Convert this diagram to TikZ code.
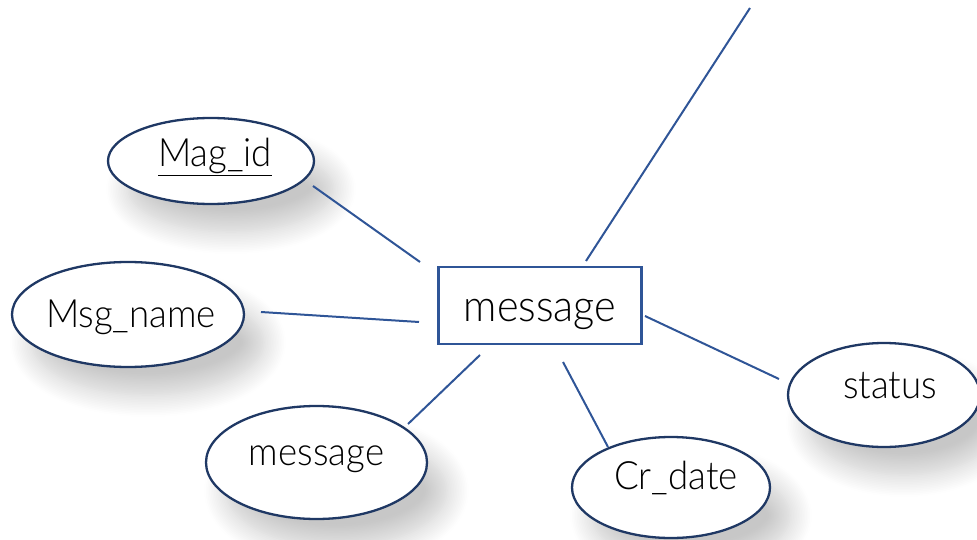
\documentclass[tikz,border=0pt]{standalone}
\usepackage{fontspec}
\setmainfont{Lato Light}[FakeStretch=0.94]
\usetikzlibrary{shapes.geometric,shadows.blur}
\definecolor{edgeblue}{HTML}{1F3864}
\definecolor{lineblue}{HTML}{2F5597}
\definecolor{boxblue}{HTML}{2F5597}
\newcommand{\flatbox}[1]{\raisebox{0pt}[0pt][0pt]{#1}}
\tikzset{
  attr/.style={ellipse, draw=edgeblue, line width=2.3pt, fill=white, inner sep=0pt,
    blur shadow={shadow xshift=20pt, shadow yshift=-28pt, shadow blur radius=22pt, shadow opacity=22, shadow blur steps=14}},
  attrtext/.style={font=\fontsize{39}{44}\selectfont, text=black, inner sep=0pt},
  entitytext/.style={font=\fontsize{44}{50}\selectfont, text=black, inner sep=0pt},
  entity/.style={rectangle, draw=boxblue, line width=2.3pt, fill=white, inner sep=0pt,
    minimum width=203pt, minimum height=77pt},
  link/.style={draw=lineblue, line width=2pt}
}
\begin{document}
\begin{tikzpicture}[x=1pt,y=-1pt]
\useasboundingbox (0,0) rectangle (977,540);
\node[attr, minimum width=206pt, minimum height=86pt,
  label={[attrtext, xshift=4pt, yshift=-6pt]center:\flatbox{\underline{Mag\_id}}}] (magid) at (211,161) {};
\node[attr, minimum width=232pt, minimum height=105pt,
  label={[attrtext, xshift=3pt, yshift=-12.5pt]center:\flatbox{Msg\_name}}] (msgname) at (128,314.5) {};
\node[attr, minimum width=221pt, minimum height=113pt,
  label={[attrtext, yshift=-3pt]center:\flatbox{message}}] (msg) at (316.5,462.5) {};
\node[attr, minimum width=198pt, minimum height=101pt,
  label={[attrtext, xshift=5pt, yshift=-1.5pt]center:\flatbox{Cr\_date}}] (crdate) at (671,487.5) {};
\node[attr, minimum width=192pt, minimum height=104pt,
  label={[attrtext, xshift=6pt, yshift=-3pt]center:\flatbox{status}}] (status) at (884,395) {};
\node[entity, label={[entitytext, yshift=-15.5pt]center:\flatbox{message}}] (ent) at (540,305.5) {};
% connector ends
\coordinate (a1) at (313,186); \coordinate (a2) at (420,262);
\coordinate (b1) at (261,312); \coordinate (b2) at (419,322);
\coordinate (c1) at (408,424); \coordinate (c2) at (480,355);
\coordinate (d1) at (608,447); \coordinate (d2) at (563,362);
\coordinate (e1) at (779,379); \coordinate (e2) at (645,316);
\coordinate (f1) at (586,261); \coordinate (f2) at (750,8);
\draw[link] (a1) -- (a2);
\draw[link] (b1) -- (b2);
\draw[link] (c1) -- (c2);
\draw[link] (d1) -- (d2);
\draw[link] (e1) -- (e2);
\draw[link] (f1) -- (f2);
\end{tikzpicture}
\end{document}
